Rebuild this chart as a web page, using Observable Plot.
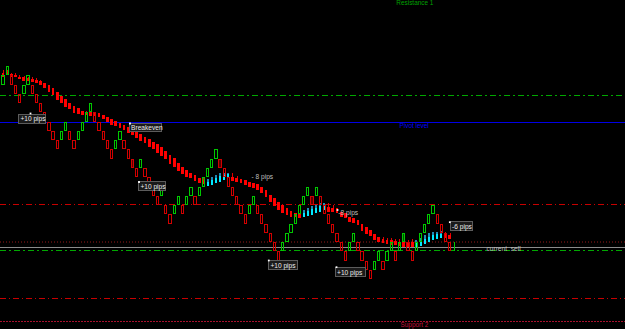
<!DOCTYPE html>
<html><head><meta charset="utf-8">
<script src="https://cdn.jsdelivr.net/npm/d3@7"></script>
<script src="https://cdn.jsdelivr.net/npm/@observablehq/plot@0.6"></script>
<style>html,body{margin:0;padding:0;background:#000;overflow:hidden}svg{display:block}</style>
</head><body>
<script>
// Renko-style brick grid (price of each brick's upper edge)
const gridLevels = [1.34264,1.342547,1.342455,1.342362,1.342269,1.342177,1.342084,1.341991,1.341898,1.341806,1.341713,1.34162,1.341528,1.341435,1.341342,1.34125,1.341157,1.341064,1.340971,1.340879,1.340786,1.340693,1.340601,1.340508];
// per bar: index into gridLevels of the brick top, and direction (1 = up/green, 0 = down/red)
const brickLevel = [1,0,1,2,3,2,1,2,3,4, 5,6,7,8,7,6,7,8,7,6, 5,4,5,6,7,8,9,8,7,8, 9,10,11,10,11,12,13,14,13,15,
  16,15,14,15,14,13,14,13,12,11, 10,9,10,11,12,13,14,15,16,15, 14,15,16,17,18,19,20,19,18,17, 16,15,14,13,14,13,14,15,16,17,
  18,19,20,19,18,19,20,21,22,21, 20,21,20,19,20,19,18,19,20,19, 18,17,16,15,16,17,18,19];
const brickUp = [1,1,0,0,0,1,1,0,0,0, 0,0,0,0,1,1,0,0,1,1, 1,1,0,0,0,0,0,1,1,0, 0,0,0,1,0,0,0,0,1,0,
  0,1,1,0,1,1,0,1,1,1, 1,1,0,0,0,0,0,0,0,1, 1,0,0,0,0,0,0,1,1,1, 1,1,1,1,0,1,0,0,0,0,
  0,0,0,1,1,0,0,0,0,1, 1,0,1,1,0,1,1,0,0,1, 1,1,1,1,0,0,0,0];
const darkBricks = [31,52,74,96];
const currentBarLevel = 19; // forming bar (bar 108)

// signal blocks (filled red / cyan): high, body top, body bottom
const blockHigh = [1.3426,1.3426,1.342573,1.34257,1.34255,1.34254,1.34253,1.34253,1.34252,1.3425,
1.34247,1.34245,1.342417,1.342383,1.34234,1.342307,1.342273,1.34224,1.342217,1.342193,
1.34219,1.34219,1.34218,1.34217,1.34215,1.342133,1.34211,1.34209,1.342073,1.34205,
1.342033,1.342007,1.341983,1.34196,1.341933,1.341907,1.341883,1.34186,1.341827,1.341793,
1.34175,1.341717,1.341673,1.341633,1.3416,1.341573,1.34155,1.341517,1.34152,1.341507,
1.341533,1.34155,1.341567,1.341573,1.341573,1.341567,1.34154,1.341507,1.3415,1.341483,
1.341473,1.341457,1.341433,1.3414,1.34135,1.341317,1.341283,1.34125,1.341217,1.341193,
1.341173,1.341167,1.3412,1.341217,1.34124,1.34125,1.341267,1.341267,1.341267,1.34125,
1.341217,1.341183,1.341167,1.341133,1.341117,1.3411,1.34106,1.341027,1.341,1.340957,
1.340933,1.34093,1.34092,1.34092,1.34091,1.34091,1.34091,1.3409,1.34091,1.3409,
1.340923,1.34095,1.340967,1.340983,1.340983,1.34099,1.340983,1.340967];
const blockTop = [1.342573,1.34258,1.34256,1.342553,1.342533,1.342527,1.342517,1.34251,1.3425,1.342493,
1.342467,1.34245,1.342417,1.342383,1.34234,1.342307,1.342273,1.34224,1.342217,1.342193,
1.342183,1.342177,1.342173,1.342167,1.34215,1.342133,1.34211,1.34209,1.342073,1.34205,
1.342033,1.342007,1.341983,1.34196,1.341933,1.341907,1.341883,1.34186,1.341827,1.341793,
1.34175,1.341717,1.341673,1.341633,1.3416,1.341573,1.34155,1.341517,1.3415,1.34148,
1.341505,1.341525,1.34154,1.34155,1.34156,1.341527,1.341517,1.341507,1.3415,1.341483,
1.341473,1.341457,1.341433,1.3414,1.34135,1.341317,1.341283,1.34125,1.341217,1.341193,
1.341173,1.341167,1.341173,1.34119,1.34121,1.341223,1.34124,1.34125,1.34123,1.34122,
1.341217,1.341183,1.341167,1.341133,1.341117,1.3411,1.34106,1.341027,1.341,1.340957,
1.340933,1.34091,1.3409,1.3409,1.34089,1.340883,1.340883,1.340877,1.340883,1.340875,
1.340895,1.340915,1.340935,1.340955,1.34096,1.340965,1.34096,1.34095];
const blockBottom = [1.342533,1.34255,1.342527,1.342527,1.342507,1.342493,1.34249,1.342483,1.342473,1.34245,
1.342417,1.342383,1.34235,1.3423,1.342267,1.342233,1.342207,1.342173,1.34216,1.34215,
1.34215,1.342143,1.34214,1.342127,1.342107,1.342083,1.342055,1.34204,1.342017,1.342,
1.341973,1.34195,1.341917,1.341893,1.341867,1.341833,1.341807,1.341773,1.34174,1.341707,
1.34166,1.341627,1.341593,1.34156,1.341533,1.341517,1.341493,1.341473,1.34146,1.34144,
1.34145,1.341467,1.341483,1.341505,1.341517,1.341493,1.341483,1.341467,1.34145,1.341433,
1.341417,1.3414,1.341367,1.341327,1.341283,1.341243,1.3412,1.341167,1.34115,1.341133,
1.341127,1.341117,1.341133,1.34114,1.34115,1.341167,1.341183,1.3412,1.341183,1.341183,
1.341167,1.341133,1.341117,1.341083,1.341067,1.34105,1.340993,1.34096,1.34094,1.3409,
1.340883,1.340867,1.340857,1.34085,1.34085,1.340843,1.340833,1.340833,1.340833,1.340833,
1.340843,1.340857,1.340877,1.3409,1.34091,1.340917,1.340917,1.34091];
const cyanBars = [49,50,51,52,53,54,72,73,74,75,76,77,99,100,101,102,103,104,105];

// horizontal levels
const levelNames = ["upper band","pivot","mid band","sell ticks","current sell","lower band","low band","support 2"];
const levelPrices = [1.34235,1.342077,1.341257,1.340885,1.340833,1.340805,1.34032,1.340093];

// level captions
const captionText = ["Resistance 1","Pivot level","Support 2"];
const captionBar = [94.1,94.85,95.1];
const captionPrice = [1.343271,1.342047,1.340058];

// trade labels with boxes
const boxText = ["+10 pips","Breakeven","+10 pips","+10 pips","+10 pips","-6 pips"];
const boxBar1 = [3.66,30.18,32.41,63.54,79.52,107.07];
const boxBar2 = [10.13,38.08,38.99,70.49,86.71,112.34];
const boxHigh = [1.342157,1.342067,1.341483,1.340693,1.340623,1.341083];
const boxLow = [1.342067,1.341982,1.341393,1.340603,1.340533,1.340993];
// plain labels
const noteText = ["- 8 pips","-8 pips","current\u00a0\u00a0sell"];
const noteBar = [59.4,80.2,115.69];
const notePrice = [1.341537,1.341174,1.34082];
// trade arrow markers
const markBar = [6.47,30.3,32.46,63.54,80.0,79.76,106.9];
const markPrice = [1.34217,1.34207,1.341485,1.3407,1.341205,1.340633,1.341083];

const lineStyle = {
  "upper band": {stroke:"#00a800", dash:"6,3,2,3", w:1},
  "pivot": {stroke:"#0000e6", dash:null, w:1},
  "mid band": {stroke:"#c80000", dash:"6,3,1,3", w:1},
  "sell ticks": {stroke:"#4a0c0c", dash:"1,2", w:1.5},
  "current sell": {stroke:"#8c8c8c", dash:null, w:1},
  "lower band": {stroke:"#00a800", dash:"6,3,2,3", w:1},
  "low band": {stroke:"#c80000", dash:"6,3,1,3", w:1},
  "support 2": {stroke:"#a8102e", dash:"1.5,1.5", w:1}
};
const captionColor = ["#00a000","#0000ff","#c0103a"];

const bricks = brickLevel.map((t,i)=>({i, top:gridLevels[t], bottom:gridLevels[t+1], up:brickUp[i]===1, dark:darkBricks.includes(i)}));
const blocks = blockTop.map((top,i)=>({i, high:blockHigh[i], top, bottom:blockBottom[i], cyan:cyanBars.includes(i)}));
const redBlocks = blocks.filter(d=>!d.cyan), cyanBlocks = blocks.filter(d=>d.cyan);
const levels = levelNames.map((n,k)=>({n, price:levelPrices[k]}));
const captions = captionText.map((t,k)=>({t, x:captionBar[k], y:captionPrice[k], c:captionColor[k]}));
const boxes = boxText.map((t,k)=>({t, x1:boxBar1[k], x2:boxBar2[k], y1:boxHigh[k], y2:boxLow[k], ym:(boxHigh[k]+boxLow[k])/2}));
const notes = noteText.map((t,k)=>({t, x:noteBar[k], y:notePrice[k]}));
const marks = markBar.map((x,k)=>({x, y:markPrice[k]}));

const font = "Liberation Sans, Arial, sans-serif";
const chart = Plot.plot({
  width:625, height:329, margin:0,
  style:{background:"#000"},
  x:{domain:[-0.7186,148.98], axis:null},
  y:{domain:[1.34001,1.3433], axis:null},
  marks:[
    ...levels.map(l=>Plot.ruleY([l.price],{stroke:lineStyle[l.n].stroke, strokeWidth:lineStyle[l.n].w, strokeDasharray:lineStyle[l.n].dash, shapeRendering:"crispEdges"})),
    Plot.rect(redBlocks.filter(d=>d.high>d.top),{x1:d=>d.i-0.05,x2:d=>d.i+0.19,y1:"high",y2:"top",fill:"#e00000",shapeRendering:"crispEdges"}),
    Plot.rect(redBlocks,{x1:d=>d.i-0.33,x2:d=>d.i+0.33,y1:"top",y2:"bottom",fill:"#ff0000",shapeRendering:"crispEdges"}),
    Plot.rect(cyanBlocks,{x1:d=>d.i-0.24,x2:d=>d.i+0.24,y1:"high",y2:"top",fill:"#1f88b4",shapeRendering:"crispEdges"}),
    Plot.rect(cyanBlocks,{x1:d=>d.i-0.24,x2:d=>d.i+0.24,y1:"top",y2:"bottom",fill:"#00e8ff",shapeRendering:"crispEdges"}),
    Plot.rect(bricks.filter(d=>d.dark),{x1:d=>d.i-0.3,x2:d=>d.i+0.3,y1:"top",y2:"bottom",fill:d=>d.up?"#004a00":"#5a0000",insetTop:0.5,insetBottom:0.5,shapeRendering:"crispEdges"}),
    Plot.rect(bricks,{x1:d=>d.i-0.27,x2:d=>d.i+0.27,y1:"top",y2:"bottom",stroke:d=>d.up?"#00c800":"#d20000",fill:"none",insetTop:0.5,insetBottom:0.5,shapeRendering:"crispEdges"}),
    Plot.ruleX([108],{y1:gridLevels[currentBarLevel],y2:gridLevels[currentBarLevel+1],stroke:"#00c800",shapeRendering:"crispEdges"}),
    Plot.rect(boxes,{x1:"x1",x2:"x2",y1:"y1",y2:"y2",fill:"#1a1a1a",stroke:"#5c5c5c",shapeRendering:"crispEdges"}),
    Plot.text(boxes,{x:"x1",y:"ym",text:"t",dx:1.6,textAnchor:"start",fill:"#ececec",fontSize:6.6,fontFamily:font}),
    Plot.text(notes,{x:"x",y:"y",text:"t",textAnchor:"start",fill:"#bdbdbd",fontSize:6.6,fontFamily:font}),
    Plot.text(captions,{x:"x",y:"y",text:"t",textAnchor:"start",fill:"c",fontSize:6.4,fontFamily:font}),
    Plot.dot(marks,{x:"x",y:"y",r:1,fill:"#ffffff",symbol:"square"})
  ]
});
document.body.appendChild(chart);
</script>
</body></html>
